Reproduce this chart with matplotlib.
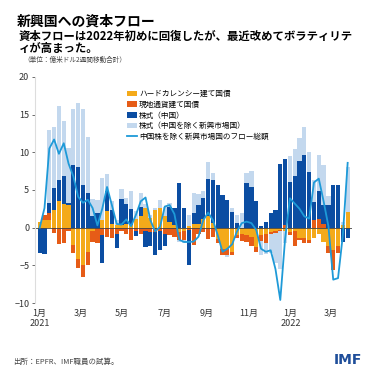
import numpy as np
import pandas as pd
import matplotlib
matplotlib.use("Agg")
import matplotlib.pyplot as plt

plt.rcParams['font.family'] = ['Noto Sans CJK JP', 'DejaVu Sans']

# weekly data, 2-week rolling sums (USD bn)
weeks = pd.date_range("2021-01-01", periods=65, freq="7D")

hard = [0.8, 1.0, 1.0, 2.3, 3.5, 3.1, 3.0, -2.3, -4.1, -5.0, -3.2, -0.4, 0.0,
        1.0, 2.2, 0.5, 0.4, 0.3, 0.5, 0.3, 1.2, 1.5, 2.6, 1.3, 2.3, 2.6,
        1.5, 0.8, 0.3, -0.6, -0.5, 0.2, 0.5, 0.5, 1.2, 1.5, 0.6, -1.5, -2.8,
        -2.8, -3.2, -1.0, -0.8, -1.0, -1.2, -2.6, -1.0, -0.8, -0.6, -0.5, -0.3,
        -0.5, -0.6, -0.4, -1.4, -1.4, -1.6, -1.4, -0.8, -1.9, -2.5, -3.0, -2.5,
        0.3, 2.1]
local = [0.0, 0.7, 0.9, -0.7, -2.2, -2.0, -0.5, -1.1, -1.3, -1.5, -1.8, -1.5, -2.1,
         -1.0, -1.2, -1.4, -0.8, -0.5, -0.8, -1.6, -0.5, -0.9, -0.5, -0.6, -0.6, -0.5,
         -0.8, -1.0, -1.3, -1.0, -1.2, -0.3, -2.3, -0.8, -0.6, -1.5, -1.2, -0.6, -0.8,
         -0.8, -0.4, -0.4, -1.0, -0.9, -1.2, -0.6, -0.8, -1.2, -0.3, -0.2, -0.2,
         0.3, -0.4, -2.0, -0.3, -0.6, -0.5, 1.0, 1.2, 0.5, -0.9, -2.6, -0.9,
         0.0, 0.0]
china = [-3.3, -3.5, 1.4, 2.9, 2.8, 3.7, 0.3, 8.3, 8.0, 5.6, 4.6, 1.5, 1.9,
         -3.7, 2.6, 1.8, -1.9, 3.5, 2.6, 2.2, -0.6, 1.2, -2.1, -1.9, -3.0, -2.5,
         -1.6, 2.0, 2.3, 5.9, 2.6, -4.6, 1.4, 2.5, 2.8, 5.0, 5.7, 5.6, 4.3,
         3.7, 2.1, 0.6, 0.0, 5.9, 5.4, 3.6, 0.2, 0.8, 2.0, 2.3, 8.5,
         8.8, 6.1, 6.8, 8.8, 9.6, 7.4, 2.4, 3.6, 2.5, 3.0, 5.6, 5.6,
         -1.9, -1.4]
non_china = [0.0, 0.0, 9.7, 8.2, 9.8, 7.3, 7.3, 7.5, 8.6, 10.2, 7.4, 2.3, 1.8,
             5.6, 2.3, 1.3, 0.6, 1.3, 0.8, 2.4, 1.0, 1.9, 0.5, 0.4, 0.3, 1.1,
             1.2, 0.5, 0.0, -0.3, -0.3, 1.5, 2.7, 1.5, 0.8, 2.2, 1.0, 0.0, 0.0,
             -0.3, 0.5, 1.1, 1.9, 1.3, 2.1, 0.0, -1.8, -1.5, -2.5, -4.0, -5.0,
             -1.5, 3.4, 3.7, 3.1, 3.8, 2.6, 2.9, 4.9, 5.3, 1.2, 0.0, 0.0,
             0.5, 6.0]
total_ex_china = [0.0, 2.6, 10.5, 11.7, 9.8, 11.2, 8.5, 6.8, 4.1, 3.3, 3.7, 2.6, 0.3,
                  2.5, 5.4, 3.0, 0.5, 0.4, 1.1, 0.2, 1.7, 3.5, 4.0, 1.0, -0.5, 0.1,
                  2.8, 3.0, 1.8, -1.6, -1.9, -1.9, -1.85, -1.2, 1.0, 2.0, 1.0, -1.0, -3.2,
                  -2.8, -2.2, -0.5, 0.6, 0.8, 0.6, -0.3, -2.8, -3.2, -3.0, -5.5, -9.6,
                  -1.5, 3.9, 3.2, 2.5, 1.5, 1.2, 6.0, 6.5, 3.5, 0.2, -6.9, -6.7,
                  -1.0, 8.6]

labels = ["ハードカレンシー建て国債", "現地通貨建て国債", "株式（中国）",
          "株式（中国を除く新興市場国）", "中国株を除く新興市場国のフロー総額"]
colors = ["#F4AA1A", "#E65C17", "#0B4DA2", "#C3D8EE"]

fig = plt.figure(figsize=(3.79, 3.79), dpi=100)
ax = fig.add_axes([0.092, 0.2005, 0.838, 0.5965])

pos = np.zeros(len(weeks))
neg = np.zeros(len(weeks))
handles = []
for vals, lab, col in zip([hard, local, china, non_china], labels, colors):
    v = np.array(vals)
    bottom = np.where(v >= 0, pos, neg)
    b = ax.bar(weeks, v, bottom=bottom, width=6.2, color=col, label=lab, linewidth=0)
    handles.append(b)
    pos += np.clip(v, 0, None)
    neg += np.clip(v, None, 0)

ax.axhline(0, color="#444444", lw=0.6, zorder=1)
line, = ax.plot(weeks, total_ex_china, color="#1E9AD8", lw=1.3, label=labels[4], zorder=5)
handles.append(line)

ax.set_ylim(-10, 20)
ax.set_yticks([-10, -5, 0, 5, 10, 15, 20])
ax.set_xlim(pd.Timestamp("2020-12-25"), pd.Timestamp("2022-04-01"))

ticks = pd.date_range("2021-01-01", "2022-03-01", freq="2MS")
ax.set_xticks(ticks)
ax.set_xticklabels([f"{d.month}月\n{d.year}" if d.month == 1 else f"{d.month}月" for d in ticks])

for s in ["top", "right", "bottom"]:
    ax.spines[s].set_visible(False)
ax.spines["left"].set_color("#dddddd")
ax.tick_params(axis="y", labelsize=6.5, colors="#333333", length=2, width=0.5, pad=2)
ax.tick_params(axis="x", labelsize=6.5, colors="#333333", length=0, pad=4)

ax.legend(handles=handles, labels=labels, loc="upper left", bbox_to_anchor=(0.28, 0.955),
          frameon=False, fontsize=5.5, handlelength=1.3, handleheight=0.8,
          handletextpad=0.3, labelspacing=0.35, borderaxespad=0)

fig.text(0.045, 0.942, "新興国への資本フロー", fontsize=10, fontweight="bold", va="center")
fig.text(0.05, 0.903, "資本フローは2022年初めに回復したが、最近改めてボラティリテ",
         fontsize=8.2, fontweight="bold", va="center")
fig.text(0.05, 0.871, "ィが高まった。", fontsize=8.2, fontweight="bold", va="center")
fig.text(0.062, 0.843, "（単位：億米ドル2週間移動合計）", fontsize=4.8, color="#444444", va="center")

fig.text(0.035, 0.045, "出所：EPFR、IMF職員の試算。", fontsize=5.4, color="#444444", va="center")
fig.text(0.955, 0.05, "IMF", fontsize=10, fontweight="bold", color="#1F4E9A",
         family="DejaVu Sans", ha="right", va="center")

plt.savefig("out.png", dpi=100)
